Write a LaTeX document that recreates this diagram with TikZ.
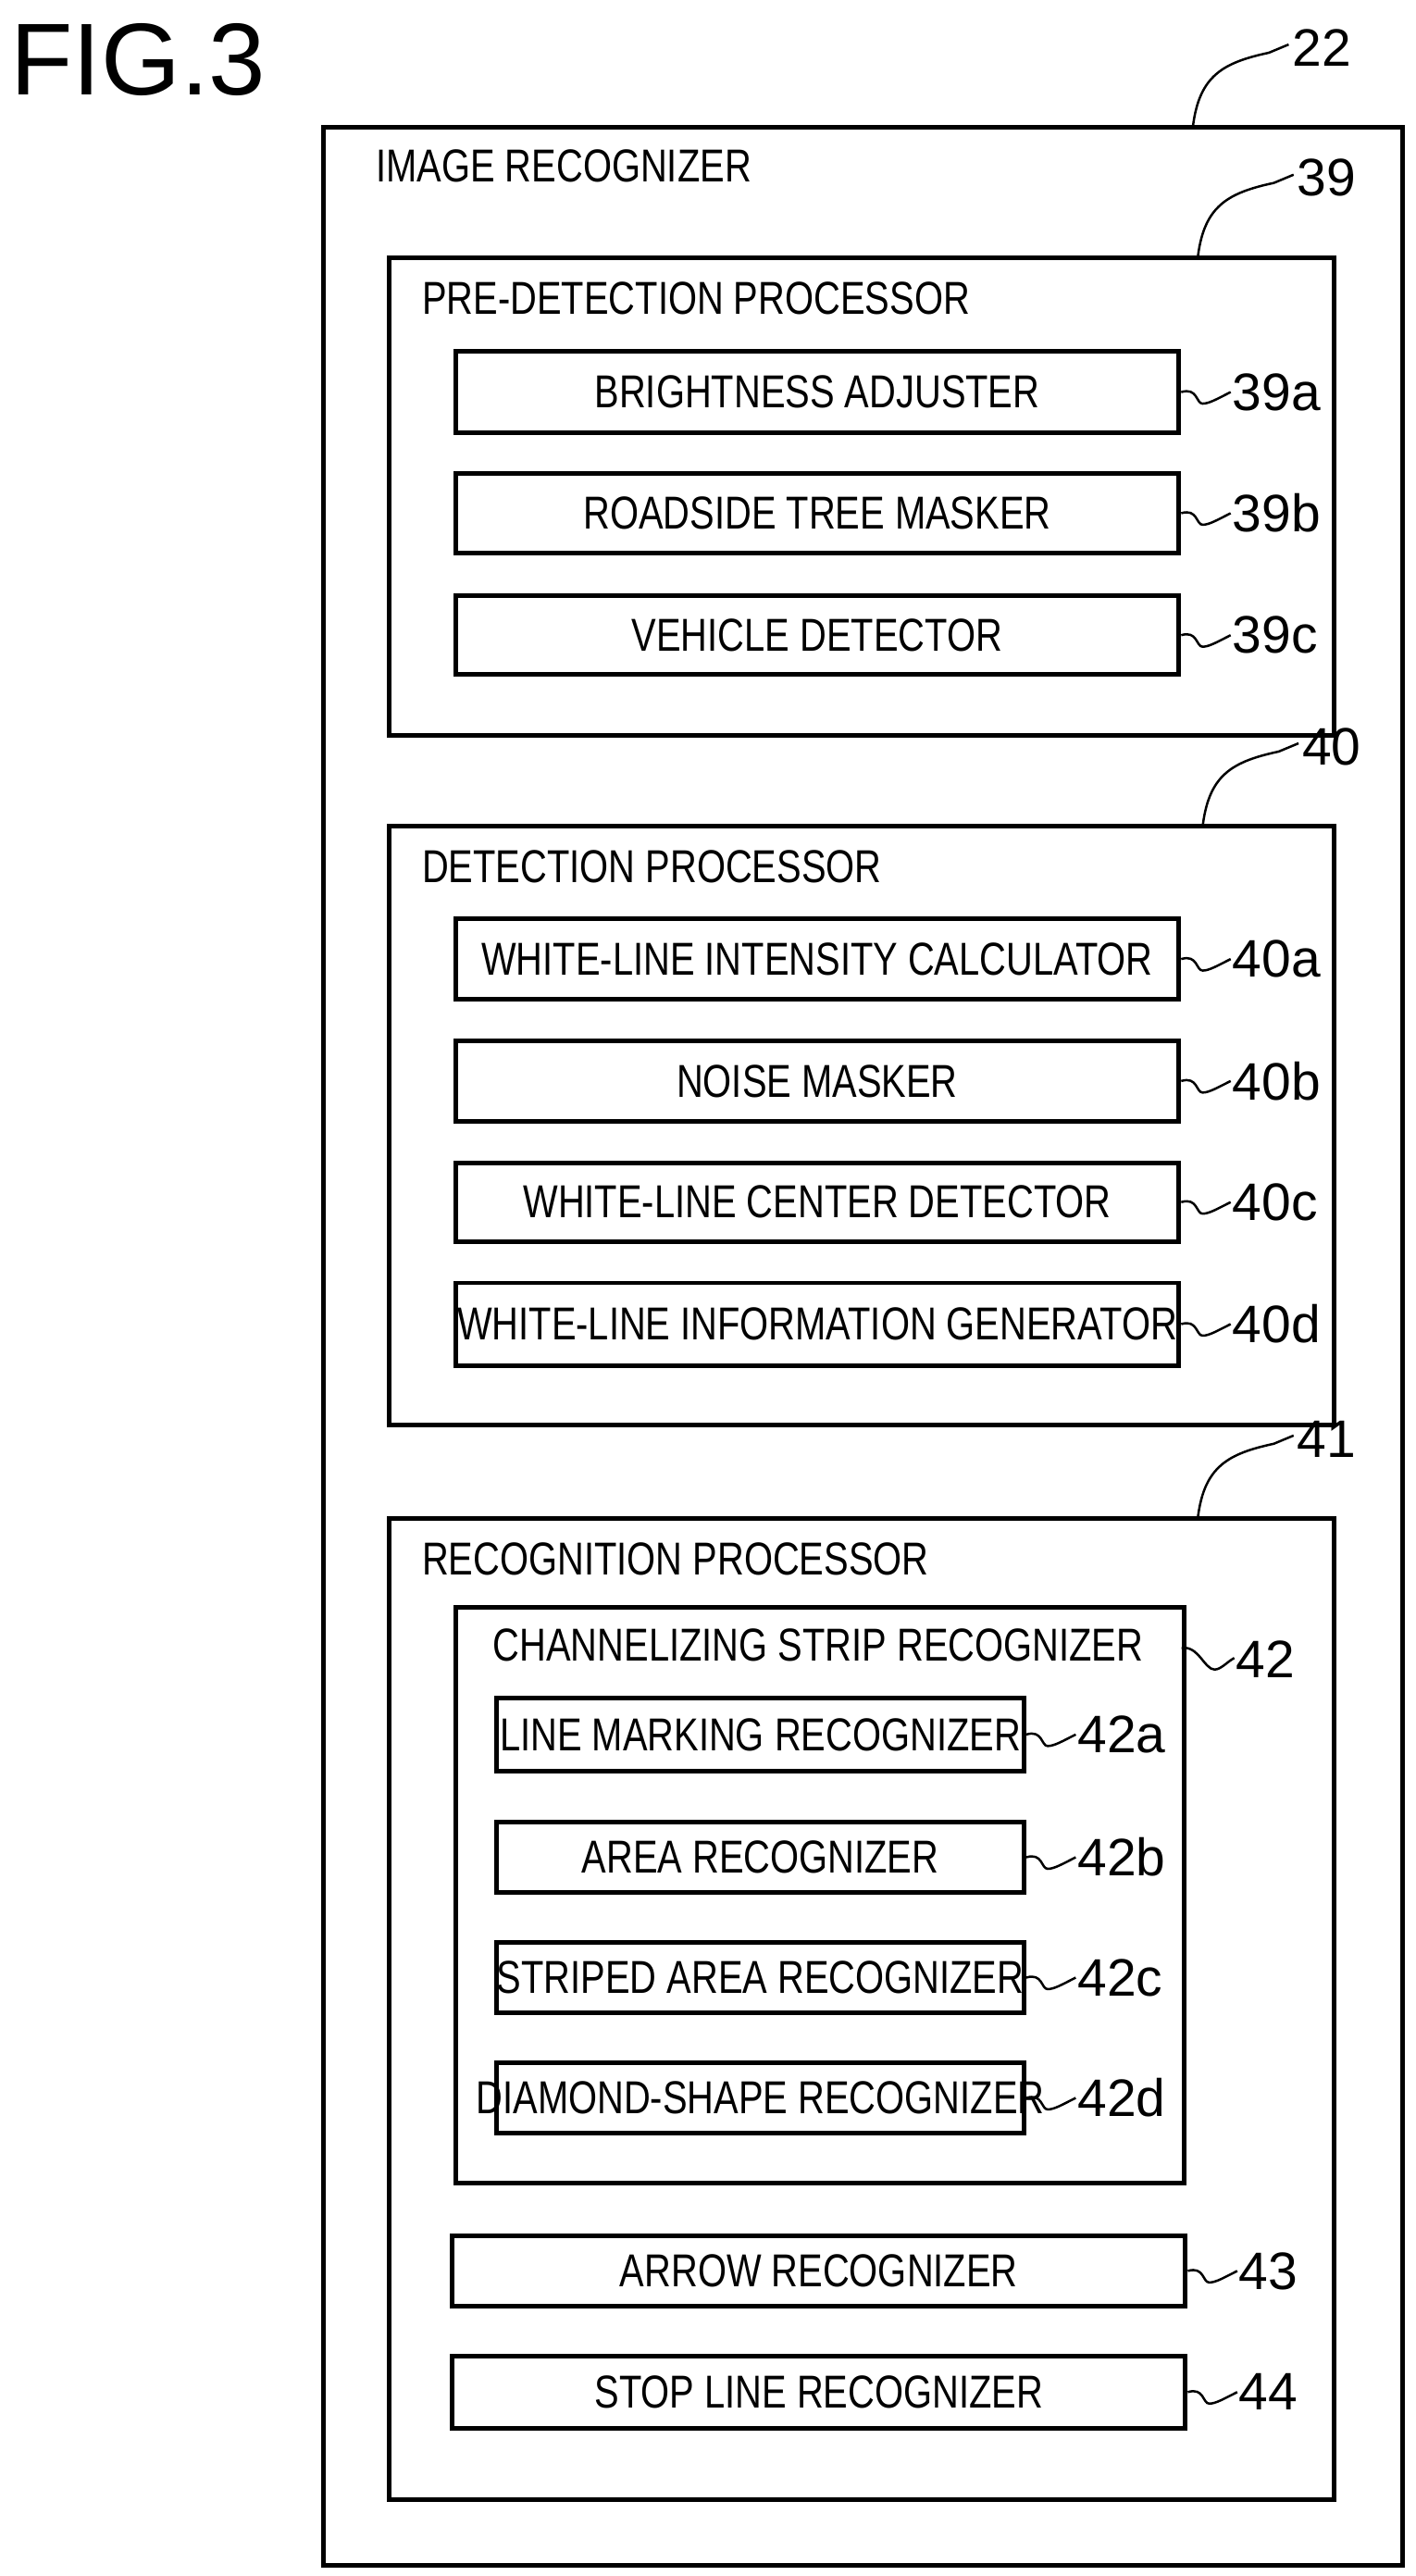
\documentclass[tikz,border=0pt]{standalone}
\usepackage{fontspec}
\setmainfont[FakeStretch=0.8]{Liberation Sans}
\newfontfamily\numfont{Liberation Sans}
\begin{document}
\begin{tikzpicture}[x=1pt,y=-1pt,
  box/.style={draw,line width=2.8pt,rectangle,inner sep=0pt,anchor=north west},
  txt/.style={font=\fontsize{28}{29}\selectfont,inner sep=0pt},
  ttl/.style={txt,anchor=west},
  lab/.style={font=\numfont\fontsize{32}{33}\selectfont,inner sep=0pt,anchor=west},
  ldr/.style={line width=1.4pt}]
\useasboundingbox (0,0) rectangle (859,1563);
\newcommand\bx[5]{\node[box,minimum width={(#4-#2)*1pt},minimum height={(#5-#3)*1pt}] (#1) at (#2,#3) {};}
\newcommand\sq[3]{% box, label name, text
  \draw[ldr] (#1.east) .. controls +(10,-3) and +(-4,0) .. ++(13,7) coordinate (#2c) .. controls +(4,0) and +(-8,4) .. ++(17,-7);
  \node[lab] (#2) at ([xshift=31pt]#1.east) {#3};}
\newcommand\tp[4]{% label name, x on top, y top, text
  \draw[ldr] (#2,#3) .. controls (#2+4,#3-30) and (#2+18,#3-38) .. (#2+46,#3-44) -- (#2+58,#3-49);
  \node[lab,anchor=west] (#1) at (#2+60,#3-47) {#4};}
\node[font=\numfont\fontsize{62}{64}\selectfont,inner sep=0pt,anchor=west] (fig) at (6,36) {FIG.3};
% outer
\bx{o}{195}{76}{850}{1555}
\node[ttl] (ot) at (228,101) {IMAGE RECOGNIZER};
\tp{l22}{724}{76}{22}
% 39
\bx{b39}{235}{155}{808}{445}
\node[ttl] (t39) at (256,181) {PRE-DETECTION PROCESSOR};
\tp{l39}{727}{155}{39}
\bx{a39}{275}{212}{714}{261}\node[txt] (ta39) at (a39.center) {BRIGHTNESS ADJUSTER};\sq{a39}{la39}{39a}
\bx{b39b}{275}{286}{714}{334}\node[txt] (tb39) at (b39b.center) {ROADSIDE TREE MASKER};\sq{b39b}{lb39}{39b}
\bx{c39}{275}{360}{714}{408}\node[txt] (tc39) at (c39.center) {VEHICLE DETECTOR};\sq{c39}{lc39}{39c}
% 40
\bx{b40}{235}{500}{808}{863}
\node[ttl] (t40) at (256,526) {DETECTION PROCESSOR};
\tp{l40}{730}{500}{40}
\bx{a40}{275}{556}{714}{605}\node[txt] (ta40) at (a40.center) {WHITE-LINE INTENSITY CALCULATOR};\sq{a40}{la40}{40a}
\bx{b40b}{275}{630}{714}{679}\node[txt] (tb40) at (b40b.center) {NOISE MASKER};\sq{b40b}{lb40}{40b}
\bx{c40}{275}{704}{714}{752}\node[txt] (tc40) at (c40.center) {WHITE-LINE CENTER DETECTOR};\sq{c40}{lc40}{40c}
\bx{d40}{275}{777}{714}{827}\node[txt] (td40) at (d40.center) {WHITE-LINE INFORMATION GENERATOR};\sq{d40}{ld40}{40d}
% 41
\bx{b41}{235}{920}{808}{1515}
\node[ttl] (t41) at (256,946) {RECOGNITION PROCESSOR};
\tp{l41}{727}{920}{41}
\bx{b42}{275}{974}{717}{1323}
\node[ttl] (t42) at (299,998) {CHANNELIZING STRIP RECOGNIZER};
\draw[ldr] (717,1000) .. controls (727,998) and (731,1013) .. (737,1013) .. controls (741,1013) and (745,1008) .. (749,1006);
\node[lab] (l42) at (750,1007) {42};
\bx{a42}{300}{1029}{620}{1073}\node[txt] (ta42) at (a42.center) {LINE MARKING RECOGNIZER};\sq{a42}{la42}{42a}
\bx{b42b}{300}{1104}{620}{1147}\node[txt] (tb42) at (b42b.center) {AREA RECOGNIZER};\sq{b42b}{lb42}{42b}
\bx{c42}{300}{1177}{620}{1220}\node[txt] (tc42) at (c42.center) {STRIPED AREA RECOGNIZER};\sq{c42}{lc42}{42c}
\bx{d42}{300}{1250}{620}{1293}\node[txt] (td42) at (d42.center) {DIAMOND-SHAPE RECOGNIZER};\sq{d42}{ld42}{42d}
\bx{b43}{273}{1355}{718}{1398}\node[txt] (t43) at (b43.center) {ARROW RECOGNIZER};\sq{b43}{l43}{43}
\bx{b44}{273}{1428}{718}{1472}\node[txt] (t44) at (b44.center) {STOP LINE RECOGNIZER};\sq{b44}{l44}{44}
\end{tikzpicture}
\end{document}
